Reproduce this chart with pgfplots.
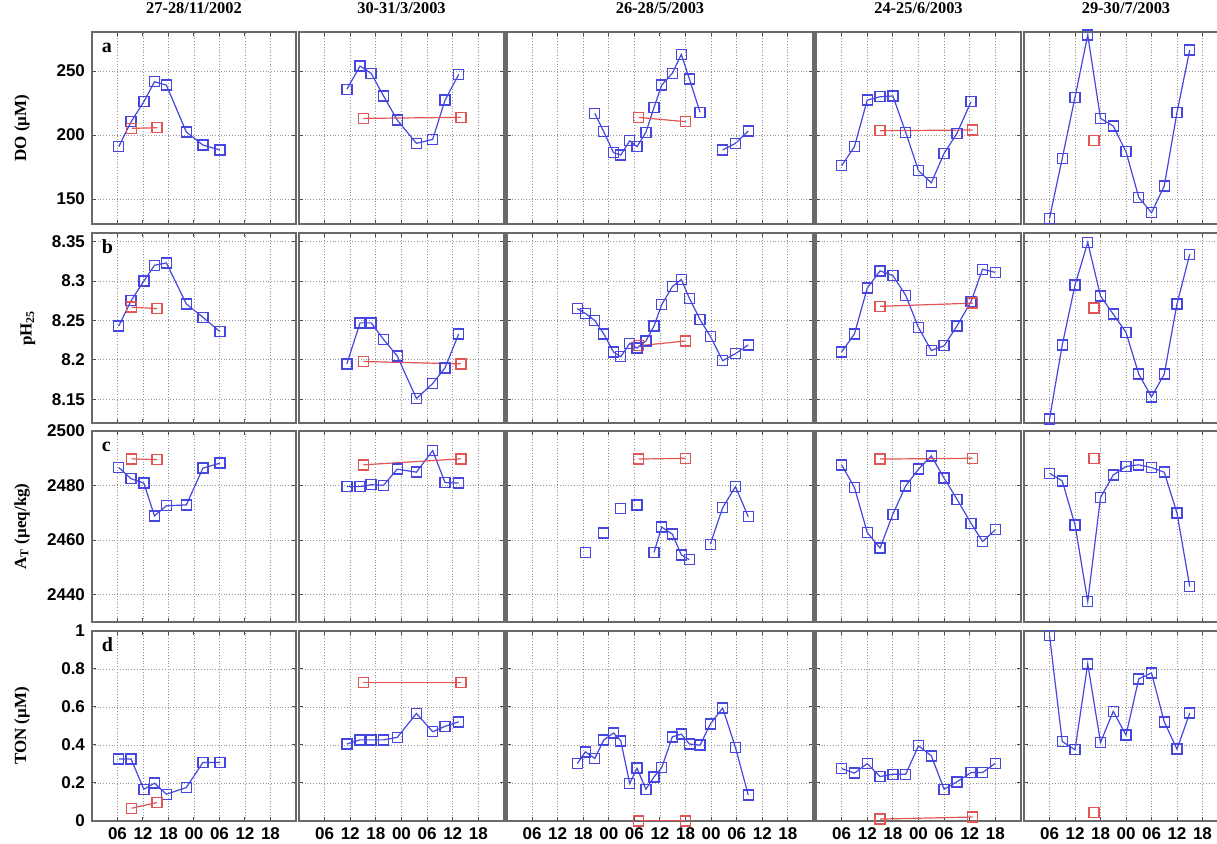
\documentclass[border=0pt]{standalone}
\usepackage{fontspec}
\setmainfont{Liberation Serif}
\setsansfont{Liberation Sans}
\usepackage{pgfplots}
\usepackage{pgfplotstable}
\pgfplotsset{compat=1.18}
\definecolor{myblue}{RGB}{70,70,225}
\definecolor{myred}{RGB}{225,85,85}
\definecolor{framegray}{RGB}{105,105,105}
\definecolor{gridgray}{RGB}{150,150,150}

% panel 1: 27-28/11/2002
\pgfplotstableread{
t a b c d
6.3 190.9 8.243 2486.6 0.326
9.2 210.4 8.275 2482.5 0.326
12.2 226.0 8.300 2480.9 0.167
14.7 241.6 8.320 2468.9 0.199
17.5 239.0 8.323 2472.6 0.141
22.2 202.3 8.271 2472.9 0.176
26.1 192.2 8.254 2486.4 0.308
30.1 188.3 8.236 2488.2 0.308
}\pA
\pgfplotstableread{
t a b c d
9.3 205.2 8.267 2489.8 0.067
15.3 205.7 8.265 2489.5 0.097
}\rA
% panel 2: 30-31/3/2003
\pgfplotstableread{
t a b c d
11.2 235.7 8.195 2479.6 0.405
14.3 253.9 8.247 2479.6 0.427
16.9 248.2 8.247 2480.3 0.427
19.8 230.5 8.226 2480.1 0.427
23.0 211.7 8.205 2486.0 0.440
27.5 193.5 8.151 2484.9 0.566
31.3 196.6 8.170 2492.8 0.470
34.2 227.3 8.190 2481.1 0.498
37.4 247.4 8.233 2480.9 0.522
}\pB
\pgfplotstableread{
t a b c d
15.1 213.0 8.198 2487.6 0.730
37.9 213.8 8.195 2489.8 0.730
}\rB
% panel 3: 26-28/5/2003
\pgfplotstableread{
t a b c d
16.6 nan 8.265 nan 0.302
18.5 nan 8.259 2455.5 0.364
20.7 217.0 8.250 nan 0.329
22.8 202.6 8.233 2462.6 0.426
25.1 186.2 8.210 nan 0.463
26.8 184.4 8.204 2471.7 0.422
28.9 195.5 8.221 nan 0.197
30.6 190.9 8.215 2472.9 0.278
32.7 202.1 8.224 nan 0.167
34.6 221.6 8.243 2455.5 0.232
36.4 239.0 8.270 2464.8 0.281
38.9 248.2 8.293 2462.2 0.443
41.0 263.0 8.302 2454.6 0.457
42.9 243.8 8.278 2452.8 0.405
45.4 217.7 8.251 nan 0.399
47.8 nan 8.230 2458.5 0.510
50.7 188.3 8.199 2471.9 0.595
53.7 193.5 8.208 2479.6 0.387
56.7 203.1 8.219 2468.6 0.137
}\pC
\pgfplotstableread{
t a b c d
31.0 213.8 8.218 2489.7 0.0
42.0 210.4 8.224 2490.0 0.0
}\rC
% panel 4: 24-25/6/2003
\pgfplotstableread{
t a b c d
6 176.0 8.210 2487.6 0.276
9 190.9 8.233 2479.3 0.252
12 227.3 8.291 2462.8 0.302
15 229.9 8.313 2457.1 0.234
18 230.5 8.307 2469.5 0.246
21 202.1 8.282 2479.9 0.246
24 172.1 8.241 2486.0 0.396
27 162.7 8.212 2490.9 0.343
30 185.7 8.218 2482.7 0.167
33 201.3 8.243 2475.0 0.206
36.3 226.0 8.274 2466.2 0.255
39 nan 8.315 2459.5 0.255
42 nan 8.311 2463.8 0.304
}\pD
\pgfplotstableread{
t a b c d
15.0 203.4 8.268 2489.7 0.010
36.7 203.9 8.272 2490.0 0.021
}\rD
% panel 5: 29-30/7/2003
\pgfplotstableread{
t a b c d
6 134.9 8.125 2484.5 0.976
9 181.8 8.219 2481.7 0.418
12 229.5 8.295 2465.6 0.375
15 278.1 8.349 2437.5 0.827
18 213.0 8.281 2475.6 0.413
21 207.0 8.258 2483.9 0.577
24 187.0 8.235 2487.0 0.452
27 151.3 8.182 2487.6 0.748
30 139.3 8.153 2486.6 0.779
33 160.2 8.182 2484.9 0.522
36 217.7 8.271 2469.9 0.378
39 266.4 8.334 2443.0 0.568
}\pE
\pgfplotstableread{
t a b c d
16.5 195.6 8.266 2490.0 0.044
}\rE

\pgfplotsset{
  base/.style={
    scale only axis, anchor=north west,
    xmin=0, xmax=48,
    xtick={6,12,...,42}, xticklabels={},
    yticklabels={},
    grid=major,
    major grid style={densely dotted, draw=gridgray, line width=0.45pt},
    axis line style={draw=framegray, line width=1.2pt},
    tick style={draw=black!70, line width=0.5pt},
    major tick length=2pt,
    tick align=inside,
    tick label style={font=\sffamily\bfseries\fontsize{8.5}{10}\selectfont},
    title style={font=\rmfamily\bfseries\fontsize{8.2}{10}\selectfont, at={(0.5,1)}, anchor=base, yshift=3pt, inner sep=0pt},
    ylabel style={font=\rmfamily\bfseries\fontsize{8.5}{10}\selectfont, at={(axis description cs:-0.343,0.5)}, anchor=center},
    unbounded coords=jump,
  },
  rowa/.style={height=96pt, ymin=130.5, ymax=280.5, ytick={150,200,250}},
  rowb/.style={height=95pt, ymin=8.12, ymax=8.361, ytick={8.15,8.2,8.25,8.3,8.35}},
  rowc/.style={height=95.5pt, ymin=2430, ymax=2500, ytick={2440,2460,2480,2500}},
  rowd/.style={height=95pt, ymin=0, ymax=1, ytick={0,0.2,0.4,0.6,0.8,1}},
  wide/.style={xmax=72, xtick={6,12,...,66}},
  blueline/.style={color=myblue, line width=0.6pt, mark=square, mark size=2.5pt, mark options={line width=0.7pt, solid}},
  redline/.style={color=myred, line width=0.6pt, mark=square, mark size=2.5pt, mark options={line width=0.7pt, solid}},
}
\newcommand{\series}[3]{%
  \addplot[blueline] table[x=t,y=#3]{#1};
  \addplot[redline] table[x=t,y=#3]{#2};
}
\newcommand{\plab}[1]{\node[anchor=base west, inner sep=0pt, xshift=4.75pt, yshift=-10.5pt, font=\rmfamily\bfseries\fontsize{10}{12}\selectfont] at (rel axis cs:0,1) {#1};}

\begin{document}
\begin{tikzpicture}
% ---------- row a ----------
\begin{axis}[base, rowa, at={(46pt,406pt)}, width=102pt, yticklabels={150,200,250}, ylabel={DO (µM)}, title={27-28/11/2002}]
\series{\pA}{\rA}{a}
\plab{a}
\end{axis}
\begin{axis}[base, rowa, at={(149.5pt,406pt)}, width=102.5pt, title={30-31/3/2003}]
\series{\pB}{\rB}{a}
\end{axis}
\begin{axis}[base, rowa, wide, at={(253.25pt,406pt)}, width=153.5pt, title={26-28/5/2003}]
\series{\pC}{\rC}{a}
\end{axis}
\begin{axis}[base, rowa, at={(408pt,406pt)}, width=102.5pt, title={24-25/6/2003}]
\series{\pD}{\rD}{a}
\end{axis}
\begin{axis}[base, rowa, at={(512pt,406pt)}, width=102pt, title={29-30/7/2003}]
\series{\pE}{\rE}{a}
\end{axis}
% ---------- row b ----------
\begin{axis}[base, rowb, at={(46pt,305.5pt)}, width=102pt, yticklabels={8.15,8.2,8.25,8.3,8.35}, ylabel={pH\textsubscript{25}}, ylabel style={at={(axis description cs:-0.314,0.5)}}]
\series{\pA}{\rA}{b}
\plab{b}
\end{axis}
\begin{axis}[base, rowb, at={(149.5pt,305.5pt)}, width=102.5pt]
\series{\pB}{\rB}{b}
\end{axis}
\begin{axis}[base, rowb, wide, at={(253.25pt,305.5pt)}, width=153.5pt]
\series{\pC}{\rC}{b}
\end{axis}
\begin{axis}[base, rowb, at={(408pt,305.5pt)}, width=102.5pt]
\series{\pD}{\rD}{b}
\end{axis}
\begin{axis}[base, rowb, at={(512pt,305.5pt)}, width=102pt]
\series{\pE}{\rE}{b}
\end{axis}
% ---------- row c ----------
\begin{axis}[base, rowc, at={(46pt,206.5pt)}, width=102pt, yticklabels={2440,2460,2480,2500}, ylabel={A\textsubscript{T} (µeq/kg)}]
\series{\pA}{\rA}{c}
\plab{c}
\end{axis}
\begin{axis}[base, rowc, at={(149.5pt,206.5pt)}, width=102.5pt]
\series{\pB}{\rB}{c}
\end{axis}
\begin{axis}[base, rowc, wide, at={(253.25pt,206.5pt)}, width=153.5pt]
\series{\pC}{\rC}{c}
\end{axis}
\begin{axis}[base, rowc, at={(408pt,206.5pt)}, width=102.5pt]
\series{\pD}{\rD}{c}
\end{axis}
\begin{axis}[base, rowc, at={(512pt,206.5pt)}, width=102pt]
\series{\pE}{\rE}{c}
\end{axis}
% ---------- row d ----------
\begin{axis}[base, rowd, at={(46pt,106.5pt)}, width=102pt, yticklabels={0,0.2,0.4,0.6,0.8,1}, xticklabels={06,12,18,00,06,12,18}, ylabel={TON (µM)}]
\series{\pA}{\rA}{d}
\plab{d}
\end{axis}
\begin{axis}[base, rowd, at={(149.5pt,106.5pt)}, width=102.5pt, xticklabels={06,12,18,00,06,12,18}]
\series{\pB}{\rB}{d}
\end{axis}
\begin{axis}[base, rowd, wide, at={(253.25pt,106.5pt)}, width=153.5pt, xticklabels={06,12,18,00,06,12,18,00,06,12,18}]
\series{\pC}{\rC}{d}
\end{axis}
\begin{axis}[base, rowd, at={(408pt,106.5pt)}, width=102.5pt, xticklabels={06,12,18,00,06,12,18}]
\series{\pD}{\rD}{d}
\end{axis}
\begin{axis}[base, rowd, at={(512pt,106.5pt)}, width=102pt, xticklabels={06,12,18,00,06,12,18}]
\series{\pE}{\rE}{d}
\end{axis}
\pgfresetboundingbox
\useasboundingbox (0,0) rectangle (608.5pt,422pt);
\end{tikzpicture}
\end{document}
